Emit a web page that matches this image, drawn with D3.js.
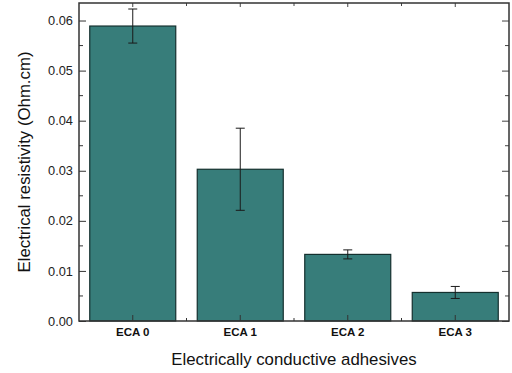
<!DOCTYPE html>
<html>
<head>
<meta charset="utf-8">
<script src="https://cdn.jsdelivr.net/npm/d3@7"></script>
<style>
  body { margin: 0; background: #fff; }
  text { font-family: "Liberation Sans", Arial, sans-serif; }
</style>
</head>
<body>
<div id="chart"></div>
<script>
// data
const categories = ["ECA 0", "ECA 1", "ECA 2", "ECA 3"];
const resistivity = [0.0589, 0.0303, 0.0133, 0.0057];
const errors = [0.0034, 0.0082, 0.0009, 0.0012];
const yTicks = [0, 0.01, 0.02, 0.03, 0.04, 0.05, 0.06];

const width = 512, height = 373;
const margin = {top: 3, right: 3, bottom: 52, left: 79};

const svg = d3.select("#chart").append("svg")
    .attr("width", width)
    .attr("height", height);

const x = d3.scaleBand()
    .domain(categories)
    .range([margin.left, width - margin.right])
    .paddingInner(0.2)
    .paddingOuter(0.1);

const y = d3.scaleLinear()
    .domain([0, 0.0635])
    .range([height - margin.bottom, margin.top]);

const fmt = d3.format(".2f");
const minorY = d3.range(0.005, 0.0635, 0.01);
const bounds = categories.slice(1).map(c => x(c) - x.step() * x.paddingInner() / 2);

// bars
svg.selectAll(".bar")
    .data(resistivity)
    .join("rect")
    .attr("class", "bar")
    .attr("x", (d, i) => x(categories[i]))
    .attr("y", d => y(d))
    .attr("width", x.bandwidth())
    .attr("height", d => y(0) - y(d))
    .attr("fill", "#377d7a")
    .attr("stroke", "#14302e")
    .attr("stroke-width", 1.2);

// error bars
const eb = svg.selectAll(".err")
    .data(resistivity)
    .join("g")
    .attr("class", "err")
    .attr("stroke", "#1a1a1a")
    .attr("stroke-width", 1);
eb.append("line")
    .attr("x1", (d, i) => x(categories[i]) + x.bandwidth() / 2)
    .attr("x2", (d, i) => x(categories[i]) + x.bandwidth() / 2)
    .attr("y1", (d, i) => y(d + errors[i]))
    .attr("y2", (d, i) => y(d - errors[i]));
[1, -1].forEach(s => {
    eb.append("line")
        .attr("x1", (d, i) => x(categories[i]) + x.bandwidth() / 2 - 4.5)
        .attr("x2", (d, i) => x(categories[i]) + x.bandwidth() / 2 + 4.5)
        .attr("y1", (d, i) => y(d + s * errors[i]))
        .attr("y2", (d, i) => y(d + s * errors[i]));
});

// left axis (ticks point inward)
const leftAxis = svg.append("g")
    .attr("transform", `translate(${margin.left},0)`)
    .call(d3.axisRight(y).tickValues(yTicks).tickFormat(fmt).tickSize(7));
leftAxis.select(".domain").remove();
leftAxis.selectAll("text")
    .attr("x", -6)
    .attr("text-anchor", "end")
    .attr("font-size", 12.8)
    .attr("fill", "#222");
leftAxis.selectAll("line").attr("stroke", "#333");
leftAxis.selectAll(".minor").data(minorY).join("line")
    .attr("class", "minor")
    .attr("x1", 0).attr("x2", 4)
    .attr("y1", d => y(d)).attr("y2", d => y(d))
    .attr("stroke", "#333");

// right axis ticks
const rightAxis = svg.append("g")
    .attr("transform", `translate(${width - margin.right},0)`)
    .call(d3.axisLeft(y).tickValues(yTicks).tickFormat("").tickSize(7));
rightAxis.select(".domain").remove();
rightAxis.selectAll("line").attr("stroke", "#444");
rightAxis.selectAll(".minor").data(minorY).join("line")
    .attr("class", "minor")
    .attr("x1", 0).attr("x2", -4)
    .attr("y1", d => y(d)).attr("y2", d => y(d))
    .attr("stroke", "#444");

// bottom axis
const bottomAxis = svg.append("g")
    .attr("transform", `translate(0,${y(0)})`)
    .call(d3.axisTop(x).tickSize(6).tickFormat(""));
bottomAxis.select(".domain").remove();
bottomAxis.selectAll("line").attr("stroke", "#333");
bottomAxis.selectAll(".minor").data(bounds).join("line")
    .attr("class", "minor")
    .attr("x1", d => d).attr("x2", d => d)
    .attr("y1", 0).attr("y2", -3)
    .attr("stroke", "#333");
bottomAxis.selectAll(".lbl").data(categories).join("text")
    .attr("class", "lbl")
    .attr("x", d => x(d) + x.bandwidth() / 2)
    .attr("y", 15)
    .attr("text-anchor", "middle")
    .attr("font-size", 11.5)
    .attr("font-weight", "bold")
    .attr("fill", "#111")
    .text(d => d);

// top axis ticks
const topAxis = svg.append("g")
    .attr("transform", `translate(0,${margin.top})`)
    .call(d3.axisBottom(x).tickSize(4).tickFormat(""));
topAxis.select(".domain").remove();
topAxis.selectAll("line").attr("stroke", "#444");
topAxis.selectAll(".minor").data(bounds).join("line")
    .attr("class", "minor")
    .attr("x1", d => d).attr("x2", d => d)
    .attr("y1", 0).attr("y2", 3)
    .attr("stroke", "#444");

// frame
svg.append("rect")
    .attr("x", margin.left)
    .attr("y", margin.top)
    .attr("width", width - margin.left - margin.right)
    .attr("height", y(0) - margin.top)
    .attr("fill", "none")
    .attr("stroke", "#333")
    .attr("stroke-width", 1.5);

// axis titles
svg.append("text")
    .attr("x", (margin.left + width - margin.right) / 2)
    .attr("y", 365)
    .attr("text-anchor", "middle")
    .attr("font-size", 16.8)
    .attr("fill", "#111")
    .text("Electrically conductive adhesives");

svg.append("text")
    .attr("transform", `translate(30,${(margin.top + y(0)) / 2}) rotate(-90)`)
    .attr("text-anchor", "middle")
    .attr("font-size", 16.8)
    .attr("fill", "#111")
    .text("Electrical resistivity (Ohm.cm)");
</script>
</body>
</html>
